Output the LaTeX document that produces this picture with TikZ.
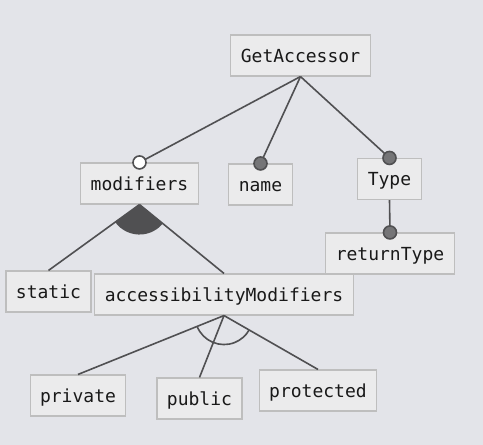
\documentclass[tikz,border=0pt]{standalone}
\usepackage{fontspec}
\setmonofont{DejaVu Sans Mono}
\usetikzlibrary{calc}
\definecolor{bgc}{HTML}{E3E4E9}
\definecolor{boxfill}{HTML}{EBEBEC}
\definecolor{boxline}{HTML}{BEBEBE}
\definecolor{wire}{HTML}{505052}
\definecolor{dotfill}{HTML}{757577}
\begin{document}
\begin{tikzpicture}[x=1pt,y=-1pt,
  feat/.style={draw=boxline, fill=boxfill, line width=1.1pt, text=black!90,
    font=\ttfamily\fontsize{18}{20}\selectfont,
    inner xsep=10pt, inner ysep=0pt, text height=13pt, text depth=0pt,
    minimum height=41pt},
  wireline/.style={draw=wire, line width=1.6pt},
  mandatory/.style={wireline, fill=dotfill},
  optional/.style={wireline, fill=white}]
\useasboundingbox[fill=bgc] (0,0) rectangle (483,445);

% feature boxes
\node[feat] (root) at (300.5,55.5) {GetAccessor};
\node[feat] (mods) at (139.5,183.5) {modifiers};
\node[feat] (name) at (260.5,184.5) {name};
\node[feat] (type) at (389.5,179) {Type};
\node[feat] (ret)  at (390,253.5) {returnType};
\node[feat] (stat) at (48.5,291.5) {static};
\node[feat] (acc)  at (224,294.5) {accessibilityModifiers};
\node[feat] (priv) at (78,395.5) {private};
\node[feat] (pub)  at (199.5,398.5) {public};
\node[feat] (prot) at (318,390.5) {protected};

% or-group under modifiers (filled sector)
\fill[wire] let \p1=($(stat.north)-(mods.south)$), \p2=($(acc.north)-(mods.south)$),
  \n1={atan2(\y1,\x1)}, \n2={atan2(\y2,\x2)} in
  (mods.south) -- ++(\n1:30pt) arc[start angle=\n1, end angle=\n2, radius=30pt] -- cycle;

% alternative group under accessibilityModifiers (open arc)
\draw[wireline] let \p1=($(priv.north)-(acc.south)$), \p2=($(prot.north)-(acc.south)$),
  \n1={atan2(\y1,\x1)}, \n2={atan2(\y2,\x2)} in
  ($(acc.south)+(\n1:29pt)$) arc[start angle=\n1, end angle=\n2, radius=29pt];

% connectors
\draw[wireline] (root.south) -- (mods.north);
\draw[wireline] (root.south) -- (name.north);
\draw[wireline] (root.south) -- (type.north);
\draw[wireline] (type.south) -- (ret.north);
\draw[wireline] (mods.south) -- (stat.north);
\draw[wireline] (mods.south) -- (acc.north);
\draw[wireline] (acc.south) -- (priv.north);
\draw[wireline] (acc.south) -- (pub.north);
\draw[wireline] (acc.south) -- (prot.north);

% mandatory / optional markers
\draw[optional]  (mods.north) circle[radius=6.5pt];
\draw[mandatory] (name.north) circle[radius=6.5pt];
\draw[mandatory] (type.north) circle[radius=6.5pt];
\draw[mandatory] (ret.north)  circle[radius=6.5pt];
\end{tikzpicture}
\end{document}
